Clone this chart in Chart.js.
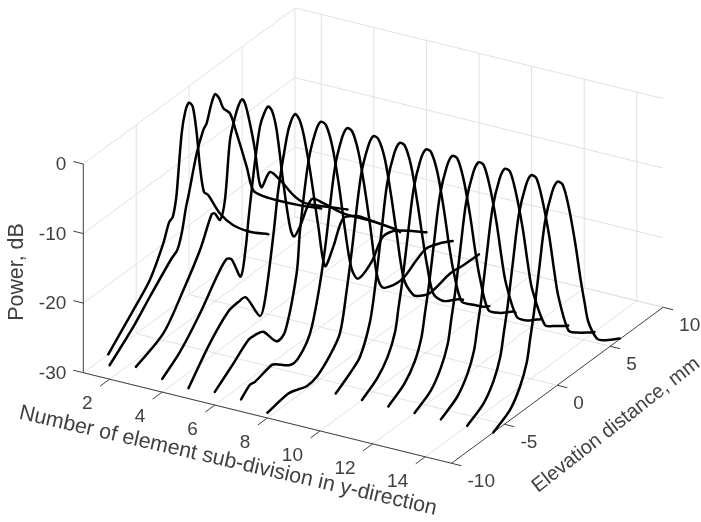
<!DOCTYPE html>
<html>
<head>
<meta charset="utf-8">
<title>Power vs elevation</title>
<script src="https://cdn.jsdelivr.net/npm/chart.js@4/dist/chart.umd.min.js"></script>
<style>
  html, body { margin: 0; padding: 0; background: #fff; }
  canvas { display: block; filter: blur(0.45px); }
</style>
</head>
<body>
<canvas id="chart" width="701" height="522"></canvas>
<script>
// Tick labels
const subdivTicks = [2, 4, 6, 8, 10, 12, 14];
const elevationTicks = [-10, -5, 0, 5, 10];
const powerTicks = [-30, -20, -10, 0];

// Sub-division number of each trace, same order as traces below
const subdivisions = [1, 2, 3, 4, 5, 6, 7, 8, 9, 10, 11, 12, 13, 14, 15];

// Traces as [elevation mm, power dB]
const trace1 = [[-7.64,-30],[-5.27,-26.3],[-3.7,-23.7],[-2.44,-19.9],[-1.9,-17.5],[-1.55,-17.1],[-1.3,-15.5],[-1.17,-14.1],[-0.7,-6],[-0.35,-3.2],[0,-2.4],[0.35,-3.4],[0.72,-7.6],[1.03,-12.8],[1.4,-16.8],[1.8,-17.7],[2.92,-21.6],[4.18,-24.7],[5.76,-27.4],[7.49,-29.7]];
const trace2 = [[-10,-28],[-7.76,-25],[-6.18,-22.4],[-4.13,-19.2],[-3.6,-18.6],[-3.19,-16.7],[-2.78,-13.4],[-2.56,-12.1],[-1.77,-6.8],[-1.14,-4.1],[-0.83,-3.5],[-0.4,-1.3],[-0.04,-0.2],[0.35,-1.2],[0.75,-3.1],[1.39,-4.6],[2,-8.1],[2.96,-14],[3.58,-18.1],[4.6,-20.1],[5.8,-22],[8,-25.2],[10,-27.9]];
const trace3 = [[-10,-27.3],[-7.41,-25.4],[-5.52,-21.3],[-3.94,-17.3],[-2.84,-13.4],[-2.55,-13.6],[-2.04,-15.1],[-1.58,-12.7],[-1.11,-4.7],[-0.63,-1.9],[-0.3,-0.6],[0.05,-0.1],[0.35,-1.2],[0.78,-4.4],[1.26,-8.8],[1.63,-13.5],[1.89,-14.8],[2.67,-13.5],[3.62,-15.7],[4.88,-19.3],[5.99,-21.7],[8.03,-24.5],[10,-27.1]];
const trace4 = [[-10,-28.1],[-8.32,-26.1],[-6.43,-22.7],[-4.7,-18.9],[-3.9,-17.7],[-3.43,-18.3],[-2.58,-21.7],[-2.1,-18],[-1.86,-14.5],[-1.3,-7.5],[-0.76,-2.2],[-0.35,-0.7],[0.03,-0.2],[0.4,-1.3],[0.82,-4.5],[1.45,-12.8],[2.08,-19.8],[2.46,-21.6],[3.02,-20.8],[4.13,-18.1],[5.23,-19.9],[7.12,-23.5],[10,-27.9]];
const trace5 = [[-10,-28.5],[-7.97,-24.3],[-6.24,-21.7],[-5.29,-21.4],[-4.59,-21.5],[-3.24,-25.7],[-2.77,-23.9],[-1.98,-15.5],[-1.51,-9.5],[-0.72,-2.9],[-0.35,-1.1],[0.07,-0.4],[0.45,-1.5],[0.85,-4],[1.48,-10],[2.27,-19],[2.9,-25.4],[3.69,-23.5],[4.63,-20.5],[5.9,-21.6],[7.15,-23.6],[9.68,-27.8],[10,-28.5]];
const trace6 = [[-10,-28.1],[-8.25,-26],[-6.83,-24.2],[-6.2,-24.2],[-5.42,-24.6],[-4.15,-27.4],[-3.36,-26.9],[-2.26,-19.7],[-1.95,-14],[-1.16,-5],[-0.5,-1.5],[0,-0.5],[0.5,-1.5],[1.1,-5.2],[1.7,-11.2],[2.3,-18.5],[2.9,-24.7],[3.53,-27],[4.83,-26],[5.9,-23.6],[7.19,-24.2],[10,-27.6]];
const trace7 = [[-10,-28.25],[-9.16,-27.1],[-8.69,-27.2],[-7.11,-26.55],[-6.7,-26.9],[-5.38,-28.5],[-4.59,-28.4],[-3.49,-26.1],[-2.7,-21.2],[-2.07,-15.5],[-1.16,-5.1],[-0.5,-1.5],[0,-0.5],[0.5,-1.5],[1.1,-5.2],[1.7,-11.2],[2.2,-17],[2.8,-24.4],[3.3,-27],[4.07,-27.8],[5.33,-28],[6.6,-26.8],[7.54,-26.2],[8.8,-26.9],[10,-27.9]];
const trace8 = [[-10,-29.25],[-8.02,-28.7],[-7.08,-29.15],[-6.29,-29.6],[-5.34,-29.3],[-4.08,-27.6],[-3.14,-25.5],[-2.5,-20],[-2.03,-15],[-1.16,-5.1],[-0.5,-1.7],[0,-0.7],[0.5,-1.7],[1.1,-5.2],[1.7,-11.2],[2.2,-17],[2.9,-24.5],[3.76,-27.7],[4.3,-28.5],[5.4,-29.25],[7.27,-28.6],[8.52,-28.8],[10,-28.9]];
const trace9 = [[-6.03,-30],[-4.68,-28.6],[-3.73,-27.3],[-2.8,-23.4],[-2.32,-19],[-1.7,-11.5],[-1.16,-5.2],[-0.5,-1.7],[0,-0.75],[0.5,-1.7],[1.1,-5.3],[1.7,-11.3],[2.2,-17],[2.58,-21],[3.2,-26],[4.14,-28.1],[5.41,-29.3],[6,-30]];
const trace10 = [[-6.03,-30],[-4.6,-28.5],[-3.6,-26.5],[-2.9,-23.7],[-2.58,-20.6],[-2.2,-17],[-1.7,-11.2],[-1.16,-5.2],[-0.5,-1.7],[0,-0.75],[0.5,-1.7],[1.1,-5.3],[1.7,-11.2],[2.2,-17],[2.6,-21],[3.39,-26.4],[4.49,-28.1],[5.44,-29.45],[6,-30]];
const trace11 = [[-6.03,-30],[-4.55,-28.5],[-3.55,-26.4],[-2.9,-23.6],[-2.58,-20.6],[-2.2,-17],[-1.7,-11.2],[-1.16,-5.2],[-0.5,-1.7],[0,-0.75],[0.5,-1.7],[1.08,-5.3],[1.7,-11.2],[2.2,-17],[2.6,-21],[3.42,-26.7],[4.53,-28.4],[5.78,-29.6],[6,-30]];
const trace12 = [[-6.03,-30],[-4.5,-28.5],[-3.55,-26.3],[-2.9,-23.6],[-2.58,-20.6],[-2.2,-17],[-1.7,-11.2],[-1.16,-5.2],[-0.5,-1.7],[0,-0.75],[0.5,-1.7],[1.06,-5.3],[1.7,-11.2],[2.2,-17],[2.6,-21],[3.62,-27],[4.56,-28.6],[5.51,-29.5],[6,-30]];
const trace13 = [[-6.03,-30],[-4.5,-28.5],[-3.53,-26.3],[-2.9,-23.6],[-2.58,-20.6],[-2.2,-17],[-1.7,-11.2],[-1.16,-5.2],[-0.5,-1.7],[0,-0.75],[0.5,-1.7],[1.05,-5.3],[1.7,-11.2],[2.2,-17],[2.6,-21],[3.81,-27.5],[4.6,-28.5],[5.54,-29.55],[6,-30]];
const trace14 = [[-6.03,-30],[-4.48,-28.5],[-3.53,-26.3],[-2.9,-23.55],[-2.58,-20.6],[-2.2,-17],[-1.7,-11.2],[-1.16,-5.2],[-0.5,-1.7],[0,-0.75],[0.5,-1.7],[1.05,-5.3],[1.7,-11.2],[2.2,-17],[2.58,-21],[3.53,-27],[4.32,-28.2],[5.58,-29.6],[6,-30]];
const trace15 = [[-6.05,-30],[-4.47,-28.53],[-3.53,-26.25],[-2.9,-23.55],[-2.58,-20.6],[-2.2,-17],[-1.7,-11.2],[-1.16,-5.2],[-0.5,-1.7],[0,-0.75],[0.5,-1.7],[1.04,-5.25],[1.67,-11.2],[2.2,-17.2],[2.58,-21],[2.93,-24.15],[3.72,-27.4],[4.35,-28.4],[5.9,-29.9]];
const traces = [trace1, trace2, trace3, trace4, trace5, trace6, trace7, trace8, trace9, trace10, trace11, trace12, trace13, trace14, trace15];

// Axis limits of the 3D box
const subdivMin = 1, subdivMax = 15;
const elevMin = -10, elevMax = 10;
const powerMin = -30, powerMax = 0;

// Fixed view of the box, the same as a rotated orthographic axes
const view = { x0: 83.3, y0: 372.7, nx: 26.3, ny: 6.47, ex: 10.58, ey: -7.8, zy: -6.957 };

const textColor = '#404040';
const gridColor = '#e1e1e1';
const axisColor = '#404040';
const tickFont = '19px "Liberation Sans"';
const titleFont = '21.4px "Liberation Sans"';
const elevTitleFont = '20px "Liberation Sans"';

// 3D value to a point on the flat x/y scales
function project(n, e, z) {
  const dn = n - subdivMin, de = e - elevMin, dz = z - powerMin;
  return {
    x: view.x0 + dn * view.nx + de * view.ex,
    y: view.y0 + dn * view.ny + de * view.ey + dz * view.zy,
  };
}

function segment(a, b, color) {
  return {
    data: [project(...a), project(...b)],
    borderColor: color,
    borderWidth: 1,
    pointRadius: 0,
    showLine: true,
    tension: 0,
  };
}

const datasets = [];

// Measured traces
traces.forEach((trace, i) => {
  datasets.push({
    data: trace.map(p => project(subdivisions[i], p[0], p[1])),
    borderColor: '#000',
    borderWidth: 2.5,
    borderCapStyle: 'round',
    borderJoinStyle: 'round',
    pointRadius: 0,
    showLine: true,
    tension: 0.3,
  });
});

// Axis rulers and their tick marks
datasets.push(segment([subdivMin, elevMin, powerMin], [subdivMin, elevMin, powerMax], axisColor));
datasets.push(segment([subdivMin, elevMin, powerMin], [subdivMax, elevMin, powerMin], axisColor));
datasets.push(segment([subdivMax, elevMin, powerMin], [subdivMax, elevMax, powerMin], axisColor));
powerTicks.forEach(z => {
  datasets.push(segment([subdivMin, elevMin, z], [subdivMin - 0.38, elevMin, z], axisColor));
});
subdivTicks.forEach(n => {
  datasets.push(segment([n, elevMin, powerMin], [n, elevMin - 0.9, powerMin], axisColor));
});
elevationTicks.forEach(e => {
  datasets.push(segment([subdivMax, e, powerMin], [subdivMax + 0.38, e, powerMin], axisColor));
});

// Grid on the floor and the two back walls
subdivTicks.forEach(n => {
  datasets.push(segment([n, elevMin, powerMin], [n, elevMax, powerMin], gridColor));
  datasets.push(segment([n, elevMax, powerMin], [n, elevMax, powerMax], gridColor));
});
elevationTicks.forEach(e => {
  datasets.push(segment([subdivMin, e, powerMin], [subdivMax, e, powerMin], gridColor));
  if (e > elevMin) {
    datasets.push(segment([subdivMin, e, powerMin], [subdivMin, e, powerMax], gridColor));
  }
});
powerTicks.forEach(z => {
  datasets.push(segment([subdivMin, elevMin, z], [subdivMin, elevMax, z], gridColor));
  datasets.push(segment([subdivMin, elevMax, z], [subdivMax, elevMax, z], gridColor));
});

// Tick labels and rotated axis titles go on after the lines
const axisText = {
  id: 'axisText',
  afterDraw(chart) {
    const { ctx, scales } = chart;
    const px = p => ({ x: scales.x.getPixelForValue(p.x), y: scales.y.getPixelForValue(p.y) });

    ctx.save();
    ctx.fillStyle = textColor;
    ctx.font = tickFont;
    ctx.textBaseline = 'middle';

    ctx.textAlign = 'right';
    powerTicks.forEach(z => {
      const p = px(project(subdivMin, elevMin, z));
      ctx.fillText(String(z), p.x - 17, p.y + 1);
    });
    subdivTicks.forEach(n => {
      const p = px(project(n, elevMin, powerMin));
      ctx.fillText(String(n), p.x - 17, p.y + 24.5);
    });

    ctx.textAlign = 'left';
    elevationTicks.forEach(e => {
      const p = px(project(subdivMax, e, powerMin));
      ctx.fillText(String(e), p.x + 16, p.y + 18);
    });

    ctx.font = titleFont;
    ctx.textAlign = 'center';
    const title = (text, x, y, deg) => {
      ctx.save();
      ctx.translate(x, y);
      ctx.rotate(deg * Math.PI / 180);
      ctx.fillText(text, 0, 0);
      ctx.restore();
    };
    title('Power, dB', 17, 272, -90);
    title('Number of element sub-division in y-direction', 228, 461, 13);
    ctx.font = elevTitleFont;
    title('Elevation distance, mm', 616, 425, -38);
    ctx.restore();
  },
};

new Chart(document.getElementById('chart'), {
  type: 'scatter',
  data: { datasets },
  plugins: [axisText],
  options: {
    responsive: false,
    animation: false,
    events: [],
    layout: { padding: 0 },
    plugins: { legend: { display: false }, tooltip: { enabled: false } },
    scales: {
      x: { type: 'linear', min: 0, max: 701, display: false },
      y: { type: 'linear', min: 0, max: 522, reverse: true, display: false },
    },
  },
});
</script>
</body>
</html>
